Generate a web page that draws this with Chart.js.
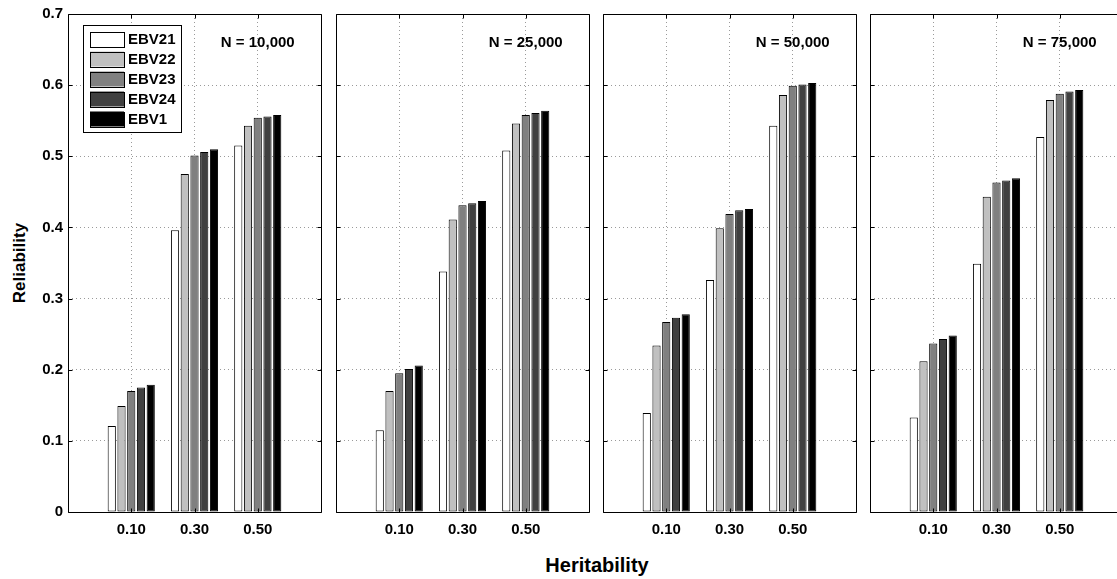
<!DOCTYPE html>
<html>
<head>
<meta charset="utf-8">
<title>Reliability by heritability</title>
<script src="https://cdn.jsdelivr.net/npm/chart.js@4.4.0/dist/chart.umd.min.js"></script>
<style>
    html, body { margin: 0; background: #fff; overflow: hidden; }
    #wrap { position: relative; width: 1117px; height: 579px; overflow: hidden; background: #fff; }
    #wrap canvas { position: absolute; top: 0; }
    .axis-title {
        position: absolute;
        font: bold 17px "Liberation Sans", Arial, sans-serif;
        color: #000;
        white-space: nowrap;
        transform: translate(-50%, -50%);
    }
    #y-title { left: 20px; top: 263px; transform: translate(-50%, -50%) rotate(-90deg); }
    #x-title { left: 597px; top: 565px; font-size: 20px; }
</style>
</head>
<body>
<div id="wrap">
    <div class="axis-title" id="y-title">Reliability</div>
    <div class="axis-title" id="x-title">Heritability</div>
</div>

<script>
// Heritability levels on the x axis
const heritability = ['0.10', '0.30', '0.50'];
const seriesNames = ['EBV21', 'EBV22', 'EBV23', 'EBV24', 'EBV1'];
const panelTitles = ['N = 10,000', 'N = 25,000', 'N = 50,000', 'N = 75,000'];
const yTicks = [0, 0.1, 0.2, 0.3, 0.4, 0.5, 0.6, 0.7];

// Reliability per series: one row per panel, one value per heritability level
const ebv21 = [[0.121, 0.396, 0.515], [0.115, 0.338, 0.508], [0.139, 0.326, 0.543], [0.133, 0.349, 0.527]];
const ebv22 = [[0.149, 0.475, 0.543], [0.170, 0.411, 0.546], [0.234, 0.399, 0.586], [0.212, 0.443, 0.579]];
const ebv23 = [[0.170, 0.501, 0.554], [0.195, 0.431, 0.558], [0.267, 0.419, 0.599], [0.237, 0.463, 0.588]];
const ebv24 = [[0.175, 0.506, 0.556], [0.201, 0.434, 0.561], [0.273, 0.424, 0.601], [0.243, 0.466, 0.591]];
const ebv1  = [[0.179, 0.510, 0.558], [0.206, 0.437, 0.564], [0.278, 0.426, 0.603], [0.248, 0.469, 0.593]];

const seriesValues = [ebv21, ebv22, ebv23, ebv24, ebv1];
const seriesFills = ['#ffffff', '#c0c0c0', '#808080', '#404040', '#000000'];

// Panel layout (pixels)
const plotLeft = [68, 336, 603, 870];
const plotWidth = 255;
const axisWidth = 68;
const plotTop = 14;
const plotBottom = 512;
const canvasHeight = 579;
const rightPad = 7;
const pageWidth = 1117;

Chart.defaults.font.family = '"Liberation Sans", Arial, sans-serif';
Chart.defaults.font.size = 15;
Chart.defaults.font.weight = 'bold';
Chart.defaults.color = '#000';

// Box, inward tick marks, panel title and legend
const panelDeco = {
    id: 'panelDeco',
    afterDraw(chart, args, opts) {
        const ctx = chart.ctx;
        const area = chart.chartArea;
        const xs = chart.scales.x;
        const ys = chart.scales.y;
        const L = Math.round(area.left) + 0.5;
        const R = Math.round(area.right) + 0.5;
        const T = Math.round(area.top) + 0.5;
        const B = Math.round(area.bottom) + 0.5;

        ctx.save();
        ctx.strokeStyle = '#000';
        ctx.lineWidth = 1;
        ctx.setLineDash([]);

        // inward ticks
        ctx.beginPath();
        yTicks.forEach(v => {
            const y = Math.round(ys.getPixelForValue(v)) + 0.5;
            ctx.moveTo(L, y); ctx.lineTo(L + 4, y);
            if (opts.rightSide) { ctx.moveTo(R, y); ctx.lineTo(R - 4, y); }
        });
        for (let i = 1; i <= heritability.length; i++) {
            const x = Math.round(xs.getPixelForTick(i)) + 0.5;
            ctx.moveTo(x, B); ctx.lineTo(x, B - 4);
            ctx.moveTo(x, T); ctx.lineTo(x, T + 4);
        }
        // frame; the last panel runs past the page edge, so its right side is left off
        ctx.moveTo(R, T); ctx.lineTo(L, T); ctx.lineTo(L, B); ctx.lineTo(R, B);
        if (opts.rightSide) { ctx.lineTo(R, T); }
        ctx.stroke();

        // sample size label above the 0.50 group
        ctx.font = 'bold 15px "Liberation Sans", Arial, sans-serif';
        ctx.fillStyle = '#000';
        ctx.textAlign = 'center';
        ctx.textBaseline = 'middle';
        ctx.fillText(opts.title, xs.getPixelForTick(heritability.length), ys.getPixelForValue(0.66));

        if (opts.legend) {
            const bx = area.left + 15;
            const by = area.top + 11;
            ctx.fillStyle = '#fff';
            ctx.fillRect(bx, by, 98, 107);
            ctx.strokeRect(Math.round(bx) + 0.5, Math.round(by) + 0.5, 98, 107);
            ctx.textAlign = 'left';
            chart.data.datasets.forEach((ds, i) => {
                const cy = by + 13.5 + i * 20;
                ctx.fillStyle = ds.backgroundColor;
                ctx.fillRect(bx + 7, cy - 7, 34, 15);
                ctx.strokeRect(Math.round(bx + 7) + 0.5, Math.round(cy - 7) + 0.5, 34, 15);
                ctx.fillStyle = '#000';
                ctx.fillText(ds.label, bx + 45, cy + 1);
            });
        }
        ctx.restore();
    }
};

const wrap = document.getElementById('wrap');

plotLeft.forEach((left, p) => {
    const canvas = document.createElement('canvas');
    canvas.width = axisWidth + plotWidth + rightPad;
    canvas.height = canvasHeight;
    canvas.style.left = (left - axisWidth) + 'px';
    wrap.appendChild(canvas);

    new Chart(canvas, {
        type: 'bar',
        data: {
            // blank categories at both ends keep a full step of space beside the groups
            labels: ['', ...heritability, ''],
            datasets: seriesNames.map((name, s) => ({
                label: name,
                data: [null, ...seriesValues[s][p], null],
                backgroundColor: seriesFills[s],
                borderColor: '#000',
                borderWidth: 1,
                borderSkipped: false,
                categoryPercentage: 0.77,
                barPercentage: 0.84
            }))
        },
        options: {
            responsive: false,
            animation: false,
            layout: { padding: { top: plotTop, right: rightPad, left: 0, bottom: 0 } },
            plugins: {
                legend: { display: false },
                tooltip: { enabled: false },
                panelDeco: {
                    title: panelTitles[p],
                    legend: p === 0,
                    rightSide: left + plotWidth < pageWidth
                }
            },
            scales: {
                x: {
                    type: 'category',
                    offset: false,
                    grid: {
                        offset: false,
                        drawTicks: false,
                        color: c => (c.index === 0 || c.index === heritability.length + 1) ? 'rgba(0,0,0,0)' : '#9a9a9a'
                    },
                    border: { display: false, dash: [1, 3] },
                    ticks: { padding: 9, maxRotation: 0, autoSkip: false },
                    afterFit: scale => { scale.height = canvasHeight - plotBottom; }
                },
                y: {
                    min: 0,
                    max: 0.7,
                    grid: { drawTicks: false, color: '#9a9a9a' },
                    border: { display: false, dash: [1, 3] },
                    afterBuildTicks: scale => { scale.ticks = yTicks.map(v => ({ value: v })); },
                    ticks: {
                        display: p === 0,
                        padding: 5,
                        callback: v => v === 0 ? '0' : Number(v).toFixed(1)
                    },
                    afterFit: scale => { scale.width = axisWidth; }
                }
            }
        },
        plugins: [panelDeco]
    });
});
</script>
</body>
</html>
